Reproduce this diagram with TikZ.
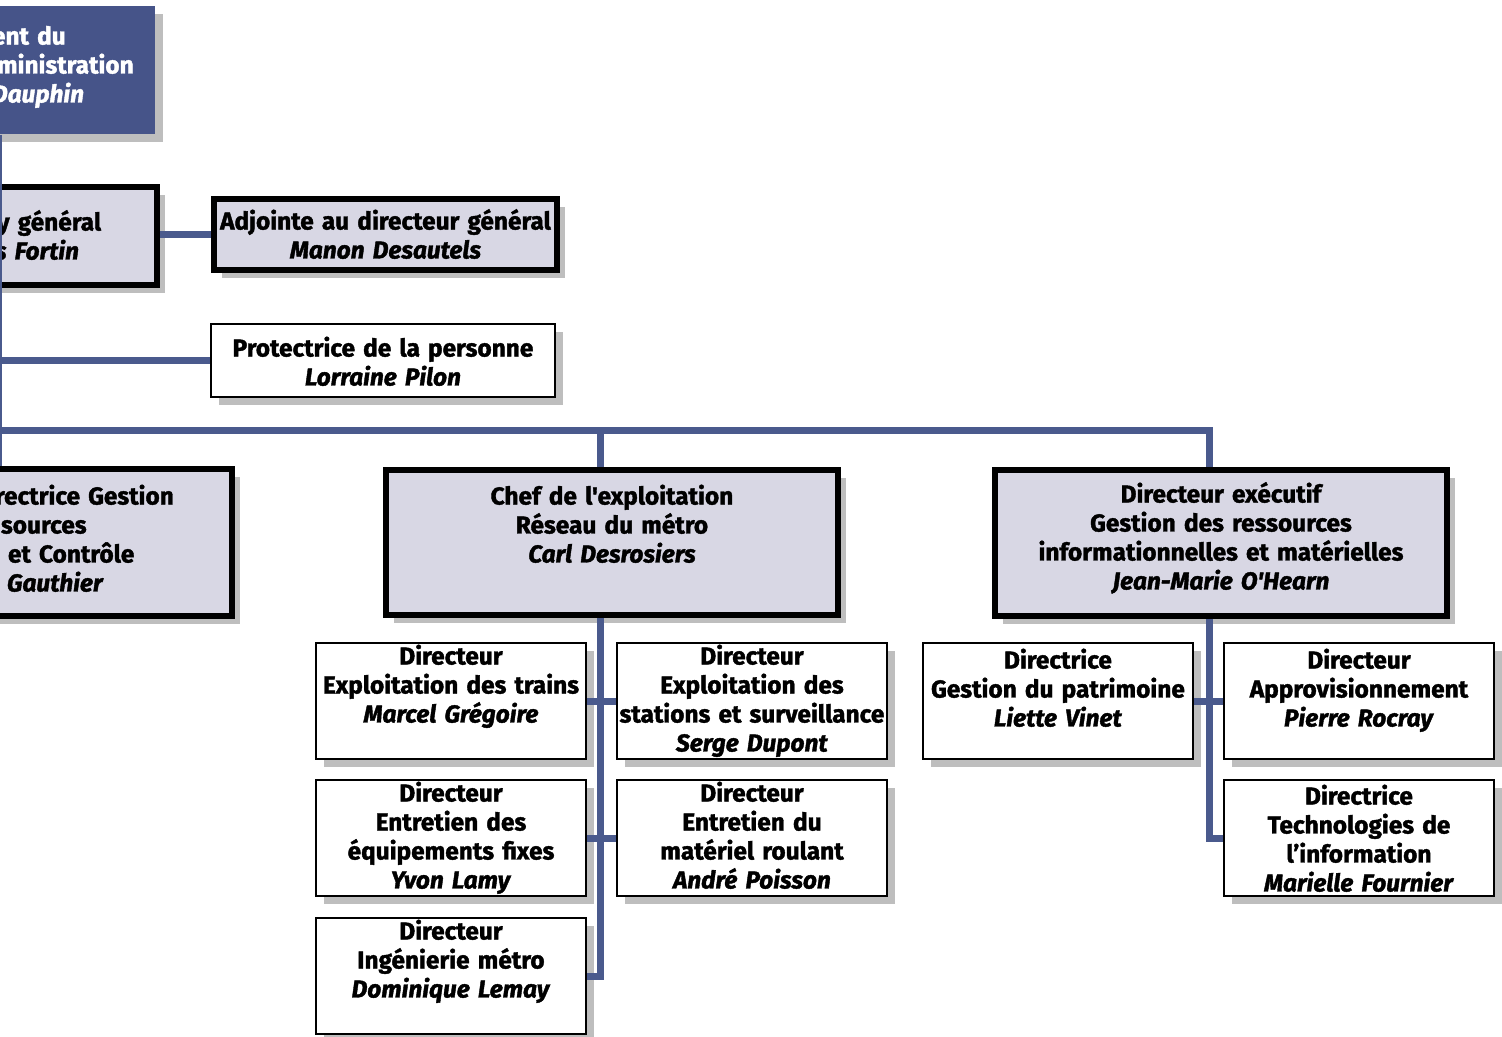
\documentclass[tikz,border=0pt]{standalone}
\usepackage{fontspec}
\setmainfont{Fira Sans}[Ligatures=TeXOff,
  BoldFeatures={FakeBold=1.6}, BoldItalicFeatures={FakeBold=1.6}]
\usetikzlibrary{positioning,shadows}
\definecolor{stmblue}{HTML}{465489}
\definecolor{stmline}{HTML}{4A5A8D}
\definecolor{stmlilac}{HTML}{D8D7E4}
\definecolor{stmshadow}{HTML}{BEBEBE}

\tikzset{
  orgbox/.style={draw=black, line width=0.04cm, align=center, inner xsep=0pt, inner ysep=0.1cm,
    font=\fontsize{13.9}{16.5}\selectfont\bfseries,
    drop shadow={shadow xshift=0.16cm, shadow yshift=-0.16cm, fill=stmshadow, opacity=1}},
  headbox/.style={orgbox, line width=0.12cm, fill=stmlilac},
  subbox/.style={orgbox, fill=white, anchor=north west, text width=5.4cm,
    text height=0.33cm, text depth=1.79cm},
  cutbox/.style={anchor=north west, align=left},
  link/.style={draw=stmline, line width=0.14cm},
}

\begin{document}
\begin{tikzpicture}[x=0.02cm, y=-0.02cm]
  \useasboundingbox (0,0) rectangle (1502,1036);
  \clip (0,0) rectangle (1502,1036);

  % trunk and column positions
  \coordinate (trunk) at (-1,0);
  \coordinate (xc) at (600,0);
  \coordinate (xe) at (1209,0);
  \coordinate (bus) at (-1,430);

  % top of the chart (cut at the left edge)
  \node[orgbox, cutbox, draw=none, fill=stmblue, text=white, inner xsep=0.18cm, text width=3.14cm,
    text height=0.67cm, text depth=1.69cm] (pres) at (-21,5)
    {\hspace*{0.06cm}ent du\\\hspace*{0.16cm}ministration\\\hspace*{0.06cm}\textit{Dauphin}};
  \node[headbox, cutbox, inner xsep=0.14cm, text width=3.24cm, text height=0.77cm, text depth=0.99cm] (dg) at (-22,184)
    {\hspace*{0.18cm}y général\\\hspace*{0.14cm}\textit{s Fortin}};
  \node[headbox, anchor=north west, text width=6.86cm, text height=0.51cm, text depth=0.71cm] (adj) at (211,196)
    {Adjointe au directeur général\\\textit{Manon Desautels}};
  \node[orgbox, fill=white, anchor=north west, text width=6.88cm, text height=0.55cm, text depth=0.71cm] (prot) at (210,323)
    {Protectrice de la personne\\\textit{Lorraine Pilon}};

  % second level
  \node[headbox, cutbox, inner xsep=0.14cm, text width=4.6cm, text height=0.61cm, text depth=2.13cm] (gest) at (-15,466)
    {rectrice Gestion\\\hspace*{0.12cm}sources\\\hspace*{0.26cm}et Contrôle\\\hspace*{0.24cm}\textit{Gauthier}};
  \node[headbox, anchor=north west, text width=9.04cm, text height=0.59cm, text depth=2.11cm] (chef) at (383,467)
    {Chef de l'exploitation\\Réseau du métro\\\textit{Carl Desrosiers}};
  \node[headbox, anchor=north west, text width=9.04cm, text height=0.55cm, text depth=2.17cm] (exec) at (992,467)
    {Directeur exécutif\\Gestion des ressources\\informationnelles et matérielles\\\textit{Jean-Marie O'Hearn}};

  % under the chef de l'exploitation
  \node[subbox] (trains) at (315,642) {Directeur\\Exploitation des trains\\\textit{Marcel Grégoire}};
  \node[subbox] (equip) at (315,779) {Directeur\\Entretien des\\équipements fixes\\\textit{Yvon Lamy}};
  \node[subbox] (inge) at (315,917) {Directeur\\Ingénierie métro\\\textit{Dominique Lemay}};
  \node[subbox] (stations) at (616,642) {Directeur\\Exploitation des\\stations et surveillance\\\textit{Serge Dupont}};
  \node[subbox] (roulant) at (616,779) {Directeur\\Entretien du\\matériel roulant\\\textit{André Poisson}};

  % under the directeur executif
  \node[subbox, text height=0.41cm, text depth=1.71cm] (patri) at (922,642)
    {Directrice\\Gestion du patrimoine\\\textit{Liette Vinet}};
  \node[subbox, text height=0.41cm, text depth=1.71cm] (appro) at (1223,642)
    {Directeur\\Approvisionnement\\\textit{Pierre Rocray}};
  \node[subbox, text height=0.39cm, text depth=1.73cm] (techno) at (1223,779)
    {Directrice\\Technologies de\\l’information\\\textit{Marielle Fournier}};

  % connectors
  \draw[link] (trunk |- pres.south) -- (trunk |- gest.north);
  \draw[link] (adj.west -| dg.east) -- (adj.west);
  \draw[link] (trunk |- prot.west) -- (prot.west);
  \draw[link] (bus) -| (xe |- exec.north);
  \draw[link] (xc |- bus) -- (xc |- chef.north);
  \draw[link] (xc |- chef.south) |- (inge.east);
  \draw[link] (trains.east) -- (stations.west);
  \draw[link] (equip.east) -- (roulant.west);
  \draw[link] (xe |- exec.south) |- (techno.west);
  \draw[link] (patri.east) -- (appro.west);
\end{tikzpicture}
\end{document}
